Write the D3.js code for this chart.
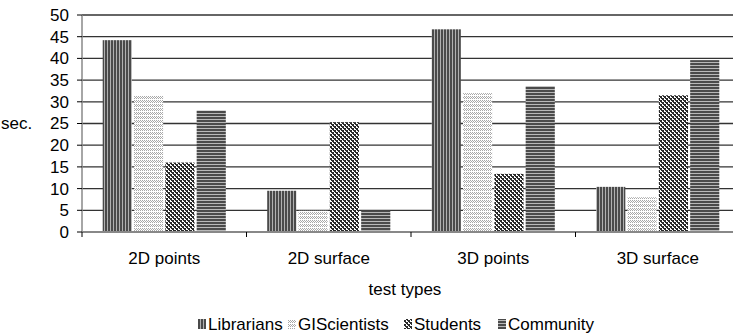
<!DOCTYPE html>
<html><head><meta charset="utf-8">
<script src="https://cdn.jsdelivr.net/npm/d3@7"></script>
<style>body{margin:0;background:#fff}svg{display:block}text{font-family:"Liberation Sans",Arial,sans-serif;fill:#000}</style>
</head><body><svg id="c" width="733" height="335"></svg>
<script>
const categories = ["2D points", "2D surface", "3D points", "3D surface"];
const series = ["Librarians", "GIScientists", "Students", "Community"];
const librarians = [44.2, 9.5, 46.7, 10.4];
const giscientists = [31.5, 4.9, 32.0, 8.0];
const students = [16.0, 25.3, 13.4, 31.5];
const community = [28.0, 5.0, 33.6, 39.6];
const yTicks = [0, 5, 10, 15, 20, 25, 30, 35, 40, 45, 50];
const yTitle = "sec.";
const xTitle = "test types";

const values = [librarians, giscientists, students, community];
const svg = d3.select("#c");
const L = 82, R = 740, T = 15, B = 232;
const FS = 17;

// patterns
const defs = svg.append("defs");
function pat(id, w, h, draw) {
  const p = defs.append("pattern").attr("id", id).attr("patternUnits", "userSpaceOnUse")
    .attr("width", w).attr("height", h);
  draw(p);
}
pat("p0", 3, 3, p => {
  p.append("rect").attr("width", 3).attr("height", 3).attr("fill", "#4a4a4a");
  p.append("rect").attr("x", 2).attr("width", 1).attr("height", 3).attr("fill", "#b0b0b0");
});
pat("p1", 4, 4, p => {
  p.append("rect").attr("width", 4).attr("height", 4).attr("fill", "#fff");
  p.append("path").attr("d", "M0,0h1v1h-1zM1,1h1v1h-1zM2,2h1v1h-1zM3,1h1v1h-1zM2,0h1v1h-1zM0,2h1v1h-1z").attr("fill", "#a8a8a8");
});
pat("p2", 4, 4, p => {
  p.append("rect").attr("width", 4).attr("height", 4).attr("fill", "#fff");
  p.append("path").attr("d", "M0,0h2v2h-2zM2,2h2v2h-2z").attr("fill", "#2a2a2a");
  p.append("path").attr("d", "M1,2h1v1h-1zM3,0h1v1h-1z").attr("fill", "#2a2a2a");
});
pat("p3", 3, 3, p => {
  p.append("rect").attr("width", 3).attr("height", 3).attr("fill", "#4a4a4a");
  p.append("rect").attr("y", 2).attr("width", 3).attr("height", 1).attr("fill", "#b8b8b8");
});
const fills = series.map((s, i) => "url(#p" + i + ")");

const x0 = d3.scaleBand().domain(categories).range([L, R]);
const x1 = d3.scaleBand().domain(series).range([20.7, x0.bandwidth() - 20.7]).paddingInner(0.07);
const y = d3.scaleLinear().domain([0, 50]).range([B, T]);

// gridlines
svg.append("g").selectAll("line").data(yTicks.filter(v => v > 0)).join("line")
  .attr("x1", L).attr("x2", R).attr("y1", d => y(d)).attr("y2", d => y(d))
  .attr("stroke", "#333").attr("stroke-width", 1.3);

// bars
const g = svg.append("g");
categories.forEach((c, ci) => {
  series.forEach((s, si) => {
    const v = values[si][ci];
    g.append("rect").attr("x", x0(c) + x1(s)).attr("width", x1.bandwidth())
      .attr("y", y(v)).attr("height", B - y(v)).attr("fill", fills[si]);
  });
});

// axes
svg.append("line").attr("x1", L).attr("x2", L).attr("y1", T).attr("y2", B).attr("stroke", "#888").attr("stroke-width", 1.5);
svg.append("line").attr("x1", L).attr("x2", R).attr("y1", B).attr("y2", B).attr("stroke", "#888").attr("stroke-width", 2);
const yAxis = svg.append("g");
yAxis.selectAll("line").data(yTicks).join("line")
  .attr("x1", L - 5).attr("x2", L).attr("y1", d => y(d)).attr("y2", d => y(d)).attr("stroke", "#000");
yAxis.selectAll("text").data(yTicks).join("text")
  .attr("x", 69).attr("y", d => y(d)).attr("dy", "0.35em").attr("text-anchor", "end")
  .attr("font-size", FS).text(d => d);
svg.append("text").attr("x", 1).attr("y", y(25)).attr("dy", "0.35em").attr("font-size", FS).text(yTitle);

// category ticks
svg.append("g").selectAll("line").data(categories).join("line")
  .attr("x1", d => x0(d)).attr("x2", d => x0(d)).attr("y1", B).attr("y2", B + 5).attr("stroke", "#000");
svg.append("g").selectAll("text").data(categories).join("text")
  .attr("x", d => x0(d) + x0.bandwidth() / 2).attr("y", 264).attr("text-anchor", "middle")
  .attr("font-size", FS).text(d => d);
svg.append("text").attr("x", 405).attr("y", 295).attr("text-anchor", "middle").attr("font-size", FS).text(xTitle);

// legend
const legX = [198, 288, 404, 498];
const lg = svg.append("g");
series.forEach((s, i) => {
  lg.append("rect").attr("x", legX[i]).attr("y", 319).attr("width", 8).attr("height", 10).attr("fill", fills[i]);
  lg.append("text").attr("x", legX[i] + 10).attr("y", 330).attr("font-size", FS).text(s);
});
</script></body></html>
